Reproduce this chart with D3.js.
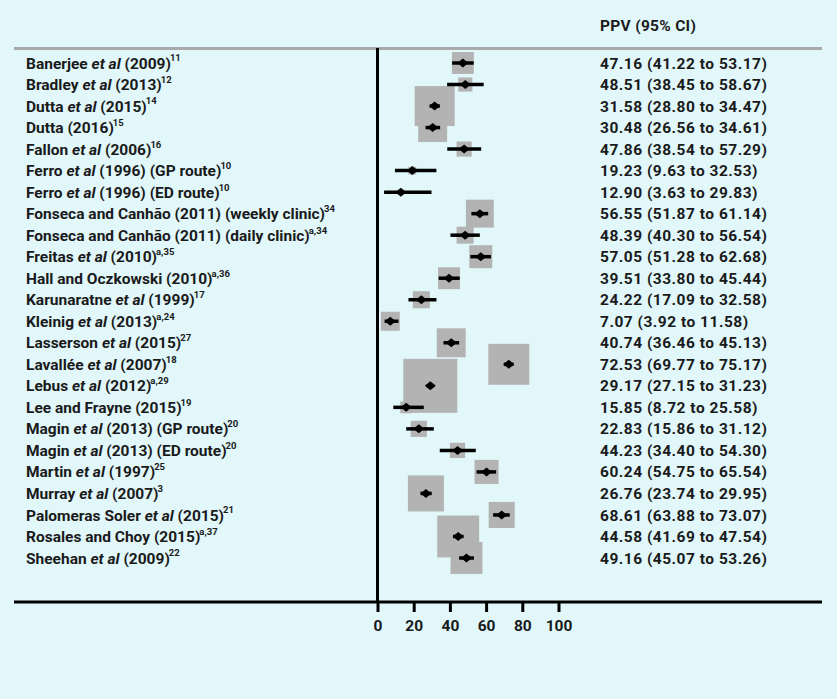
<!DOCTYPE html>
<html>
<head>
<meta charset="utf-8">
<script src="https://cdn.jsdelivr.net/npm/d3@7"></script>
<style>
  html, body { margin: 0; padding: 0; background: #e1f7fa; }
  svg { display: block; }
  text { font-family: Roboto, "DejaVu Sans", sans-serif; font-weight: 700; fill: #1a1a1a; }
</style>
</head>
<body>
<svg id="chart" width="837" height="699"></svg>
<script>
// ---- data ----
const studyNames = [
  "Banerjee |et al| (2009)", "Bradley |et al| (2013)", "Dutta |et al| (2015)", "Dutta (2016)",
  "Fallon |et al| (2006)", "Ferro |et al| (1996) (GP route)", "Ferro |et al| (1996) (ED route)",
  "Fonseca and Canhão (2011) (weekly clinic)", "Fonseca and Canhão (2011) (daily clinic)",
  "Freitas |et al| (2010)", "Hall and Oczkowski (2010)", "Karunaratne |et al| (1999)",
  "Kleinig |et al| (2013)", "Lasserson |et al| (2015)", "Lavallée |et al| (2007)",
  "Lebus |et al| (2012)", "Lee and Frayne (2015)", "Magin |et al| (2013) (GP route)",
  "Magin |et al| (2013) (ED route)", "Martin |et al| (1997)", "Murray |et al| (2007)",
  "Palomeras Soler |et al| (2015)", "Rosales and Choy (2015)", "Sheehan |et al| (2009)"
];
const references = [
  "11", "12", "14", "15", "16", "10", "10", "34", "a,34", "a,35", "a,36", "17",
  "a,24", "27", "18", "a,29", "19", "20", "20", "25", "3", "21", "a,37", "22"
];
const ppv = [47.16, 48.51, 31.58, 30.48, 47.86, 19.23, 12.90, 56.55, 48.39, 57.05, 39.51, 24.22,
  7.07, 40.74, 72.53, 29.17, 15.85, 22.83, 44.23, 60.24, 26.76, 68.61, 44.58, 49.16];
const ciLower = [41.22, 38.45, 28.80, 26.56, 38.54, 9.63, 3.63, 51.87, 40.30, 51.28, 33.80, 17.09,
  3.92, 36.46, 69.77, 27.15, 8.72, 15.86, 34.40, 54.75, 23.74, 63.88, 41.69, 45.07];
const ciUpper = [53.17, 58.67, 34.47, 34.61, 57.29, 32.53, 29.83, 61.14, 56.54, 62.68, 45.44, 32.58,
  11.58, 45.13, 75.17, 31.23, 25.58, 31.12, 54.30, 65.54, 29.95, 73.07, 47.54, 53.26];
const weights = [4.8, 2.0, 16.0, 8.4, 2.3, 0.6, 0.3, 7.8, 2.9, 5.3, 4.8, 2.9,
  3.6, 8.4, 16.8, 29.2, 1.4, 2.6, 2.3, 5.8, 13.0, 6.8, 17.6, 10.2];
const xTicks = [0, 20, 40, 60, 80, 100];
const headerLabel = "PPV (95% CI)";

// ---- layout ----
const svg = d3.select("#chart");
const fmt = d3.format(".2f");
const rows = d3.range(studyNames.length);

const x = d3.scaleLinear().domain([0, 100]).range([377.5, 558.5]);
const y = d3.scaleLinear().domain([0, rows.length - 1]).range([63, 558]);
const size = d3.scaleSqrt().domain([0, d3.max(weights)]).range([0, 54]);

svg.append("rect").attr("width", 837).attr("height", 699).attr("fill", "#e1f7fa");

// header
svg.append("text").attr("x", 600).attr("y", 31).attr("font-size", 15.5)
  .attr("letter-spacing", 0.3).text(headerLabel);
svg.append("line").attr("x1", 14).attr("x2", 822).attr("y1", 48.5).attr("y2", 48.5)
  .attr("stroke", "#a9a9a9").attr("stroke-width", 3);

// boxes
svg.append("g").selectAll("rect").data(rows).join("rect")
  .attr("x", i => x(ppv[i]) - size(weights[i]) / 2)
  .attr("y", i => y(i) - size(weights[i]) / 2)
  .attr("width", i => size(weights[i]))
  .attr("height", i => size(weights[i]))
  .attr("fill", "#b3b3b3");

// vertical reference line
svg.append("line").attr("x1", x(0)).attr("x2", x(0)).attr("y1", 48).attr("y2", 602)
  .attr("stroke", "#000").attr("stroke-width", 3);

// CI lines
svg.append("g").selectAll("line").data(rows).join("line")
  .attr("x1", i => x(ciLower[i]))
  .attr("x2", i => x(ciUpper[i]))
  .attr("y1", i => y(i)).attr("y2", i => y(i))
  .attr("stroke", "#000").attr("stroke-width", 3.5);

// diamonds
svg.append("g").selectAll("path").data(rows).join("path")
  .attr("transform", i => `translate(${x(ppv[i])},${y(i)})`)
  .attr("d", "M-5.5,0L0,-4.5L5.5,0L0,4.5Z")
  .attr("fill", "#000");

// axis
const axisG = svg.append("g").attr("transform", "translate(0,602)");
axisG.append("line").attr("x1", 14).attr("x2", 822).attr("y1", 0).attr("y2", 0)
  .attr("stroke", "#000").attr("stroke-width", 3);
const axis = d3.axisBottom(x).tickValues(xTicks).tickSize(10).tickPadding(8).tickFormat(d3.format("d"));
const ag = svg.append("g").attr("transform", "translate(0,602)").call(axis);
ag.select(".domain").remove();
ag.selectAll(".tick line").attr("stroke", "#000").attr("stroke-width", 3);
ag.selectAll(".tick text").attr("font-size", 15.5).attr("font-family", "Roboto, sans-serif")
  .attr("font-weight", 700).attr("fill", "#1a1a1a");

// study labels
const labels = svg.append("g").selectAll("text").data(rows).join("text")
  .attr("x", 26).attr("y", i => y(i)).attr("dy", "0.36em").attr("font-size", 15.5);
labels.each(function(i) {
  const t = d3.select(this);
  studyNames[i].split("|").forEach((part, k) => {
    if (!part) return;
    const s = t.append("tspan").text(part);
    if (k % 2 === 1) s.attr("font-style", "italic");
  });
  t.append("tspan").attr("font-size", 9.5).attr("dy", "-0.75em").attr("dx", -1).text(references[i]);
});

// value labels
svg.append("g").selectAll("text").data(rows).join("text")
  .attr("x", 600).attr("y", i => y(i)).attr("dy", "0.36em").attr("font-size", 15.5)
  .attr("letter-spacing", 0.5)
  .text(i => `${fmt(ppv[i])} (${fmt(ciLower[i])} to ${fmt(ciUpper[i])})`);
</script>
</body>
</html>
